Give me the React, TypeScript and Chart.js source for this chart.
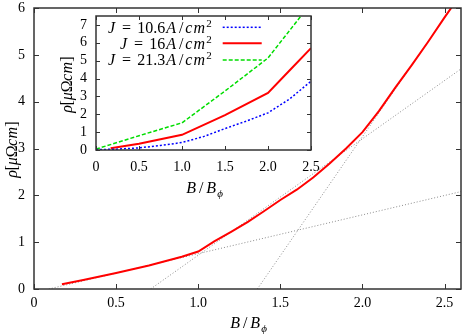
import React, { useEffect, useRef } from "react";
import { Chart, registerables } from "chart.js";
Chart.register(...registerables);

const FONT = '"Liberation Serif", "DejaVu Serif", serif';

// ---- main chart data ----
const mainX = [0.17, 0.3, 0.5, 0.7, 0.9, 1.0, 1.1, 1.2, 1.3, 1.4, 1.5, 1.6, 1.7, 1.8, 1.9, 2.0, 2.1, 2.2, 2.3, 2.4, 2.5, 2.58];
const mainY = [0.1, 0.19, 0.34, 0.5, 0.69, 0.8, 1.02, 1.22, 1.43, 1.66, 1.9, 2.12, 2.38, 2.68, 3.0, 3.35, 3.8, 4.3, 4.78, 5.28, 5.8, 6.2];
const fitLowX = [0.09, 2.6];
const fitLowY = [0, 2.08];
const fitMidX = [0.71, 2.6];
const fitMidY = [0, 4.7];
const fitHighX = [1.36, 2.56];
const fitHighY = [0, 6.1];
const mainXTicks = [0, 0.5, 1, 1.5, 2, 2.5];
const mainYTicks = [0, 1, 2, 3, 4, 5, 6];

// ---- inset data ----
const blueX = [0, 0.25, 0.5, 0.75, 1.0, 1.25, 1.5, 1.75, 2.0, 2.25, 2.5];
const blueY = [0.02, 0.05, 0.12, 0.25, 0.42, 0.75, 1.2, 1.62, 2.08, 2.85, 3.85];
const redX = [0.17, 0.5, 1.0, 1.5, 2.0, 2.25, 2.5];
const redY = [0.1, 0.35, 0.85, 1.95, 3.2, 4.45, 5.7];
const greenX = [0, 0.5, 1.0, 1.5, 2.0, 2.4];
const greenY = [0.05, 0.8, 1.52, 3.3, 5.15, 7.6];
const insetXTicks = [0, 0.5, 1, 1.5, 2, 2.5];
const insetYTicks = [0, 1, 2, 3, 4, 5, 6, 7];
const legendJ = ["10.6", "16", "21.3"];

type Seg = { t: string; it?: boolean; sz?: number; dy?: number; w?: number };

function drawRich(ctx: CanvasRenderingContext2D, segs: Seg[], x: number, y: number, base: number, align: string, rot = 0) {
  ctx.save();
  ctx.translate(x, y);
  ctx.rotate(rot);
  ctx.fillStyle = "#000";
  ctx.textBaseline = "alphabetic";
  const widths = segs.map((s) => {
    ctx.font = `${s.it ? "italic " : ""}${s.sz ?? base}px ${FONT}`;
    return s.w ?? ctx.measureText(s.t).width;
  });
  const tot = widths.reduce((a, b) => a + b, 0);
  let cur = align === "center" ? -tot / 2 : align === "right" ? -tot : 0;
  const bl = base * 0.33;
  segs.forEach((s, i) => {
    ctx.font = `${s.it ? "italic " : ""}${s.sz ?? base}px ${FONT}`;
    ctx.textAlign = "center";
    if (s.t) ctx.fillText(s.t, cur + widths[i] / 2, bl + (s.dy ?? 0));
    cur += widths[i];
  });
  ctx.restore();
}

const xTitle: Seg[] = [
  { t: "B", it: true, w: 12 },
  { t: "/", w: 8 },
  { t: "B", it: true, w: 12 },
  { t: "\u03D5", it: true, sz: 11, dy: 4 },
];
const yTitle: Seg[] = [
  { t: "\u03C1", it: true, w: 8 },
  { t: "[", w: 4.2 },
  { t: "\u03BC", it: true, w: 9 },
  { t: "\u03A9", w: 11 },
  { t: "c", it: true, w: 6.5 },
  { t: "m", it: true, w: 13 },
  { t: "]", w: 4.2 },
];
const legendSegs = (j: string): Seg[] => [
  { t: "J", it: true, w: 9 },
  { t: "", w: 4.4 },
  { t: "=", w: 12.4 },
  { t: "", w: 4.4 },
  { t: j },
  { t: "A", it: true, w: 12 },
  { t: "/", w: 8 },
  { t: "c", it: true, w: 7 },
  { t: "m", it: true, w: 14 },
  { t: "2", sz: 11, dy: -6 },
];

function framePlugin(len: number, extra: (ctx: CanvasRenderingContext2D, chart: any) => void) {
  return {
    id: "frame",
    afterDraw(chart: any) {
      const { ctx, chartArea: a } = chart;
      const xs = chart.scales.x;
      const ys = chart.scales.y;
      ctx.save();
      ctx.strokeStyle = "#333";
      ctx.lineWidth = 1;
      ctx.beginPath();
      xs.ticks.forEach((t: any) => {
        const p = Math.round(xs.getPixelForValue(t.value)) + 0.5;
        ctx.moveTo(p, a.bottom);
        ctx.lineTo(p, a.bottom - len);
        ctx.moveTo(p, a.top);
        ctx.lineTo(p, a.top + len);
      });
      ys.ticks.forEach((t: any) => {
        const p = Math.round(ys.getPixelForValue(t.value)) + 0.5;
        ctx.moveTo(a.left, p);
        ctx.lineTo(a.left + len, p);
        ctx.moveTo(a.right, p);
        ctx.lineTo(a.right - len, p);
      });
      ctx.stroke();
      ctx.lineWidth = 1.5;
      ctx.strokeRect(a.left, a.top, a.right - a.left, a.bottom - a.top);
      ctx.restore();
      extra(ctx, chart);
    },
  };
}

const pts = (xs: number[], ys: number[]) => xs.map((x, i) => ({ x, y: ys[i] }));

function scaleOpts(min: number, max: number, ticks: number[], pad: number, fit: (s: any) => void) {
  return {
    type: "linear" as const,
    min,
    max,
    grid: { display: false, drawTicks: false },
    border: { display: false },
    ticks: { font: { family: FONT, size: 14 }, color: "#000", padding: pad, maxRotation: 0, autoSkip: false },
    afterBuildTicks: (s: any) => {
      s.ticks = ticks.map((v) => ({ value: v }));
    },
    afterFit: (s: any) => {
      s.paddingTop = 0;
      s.paddingBottom = 0;
      s.paddingLeft = 0;
      s.paddingRight = 0;
      fit(s);
    },
  };
}

export default function App() {
  const mainRef = useRef<HTMLCanvasElement>(null);
  const insetRef = useRef<HTMLCanvasElement>(null);

  useEffect(() => {
    const gray = { borderColor: "#8a8a8a", borderWidth: 1, borderDash: [1, 2], pointRadius: 0, fill: false };
    const c1 = new Chart(mainRef.current!, {
      type: "line",
      data: {
        datasets: [
          { data: pts(mainX, mainY), borderColor: "#ff0000", borderWidth: 2, pointRadius: 0, fill: false, clip: 0 } as any,
          { data: pts(fitLowX, fitLowY), ...gray } as any,
          { data: pts(fitMidX, fitMidY), ...gray } as any,
          { data: pts(fitHighX, fitHighY), ...gray } as any,
        ],
      },
      options: {
        animation: false,
        responsive: false,
        devicePixelRatio: 1,
        events: [],
        layout: { padding: { top: 8, right: 2, left: 0, bottom: 0 } },
        plugins: { legend: { display: false }, tooltip: { enabled: false } },
        scales: {
          x: scaleOpts(0, 2.6, mainXTicks, 6, (s: any) => { s.height = 47; }),
          y: scaleOpts(0, 6, mainYTicks, 9, (s: any) => { s.width = 34; }),
        } as any,
      },
      plugins: [
        framePlugin(5, (ctx) => {
          drawRich(ctx, xTitle, 248, 323, 16, "center");
          drawRich(ctx, yTitle, 12, 150, 16, "center", -Math.PI / 2);
        }),
      ],
    });

    const colors = ["#0000ff", "#ff0000", "#00dd00"];
    const dashes = [[2, 2], [], [4, 2]];
    const widths = [1.5, 2, 1.5];
    const c2 = new Chart(insetRef.current!, {
      type: "line",
      data: {
        datasets: [
          { data: pts(blueX, blueY), borderColor: colors[0], borderWidth: widths[0], borderDash: dashes[0], pointRadius: 0, fill: false, clip: 0 } as any,
          { data: pts(redX, redY), borderColor: colors[1], borderWidth: widths[1], borderDash: dashes[1], pointRadius: 0, fill: false, clip: 0 } as any,
          { data: pts(greenX, greenY), borderColor: colors[2], borderWidth: widths[2], borderDash: dashes[2], pointRadius: 0, fill: false, clip: 0 } as any,
        ],
      },
      options: {
        animation: false,
        responsive: false,
        devicePixelRatio: 1,
        events: [],
        layout: { padding: { top: 2, right: 9, left: 0, bottom: 0 } },
        plugins: { legend: { display: false }, tooltip: { enabled: false } },
        scales: {
          x: scaleOpts(0, 2.5, insetXTicks, 9, (s: any) => { s.height = 50; }),
          y: scaleOpts(0, 7.5, insetYTicks, 9, (s: any) => { s.width = 38; }),
        } as any,
      },
      plugins: [
        framePlugin(4, (ctx) => {
          drawRich(ctx, xTitle, 146, 174, 16, "center");
          drawRich(ctx, yTitle, 9, 71, 16, "center", -Math.PI / 2);
          const rows = [13.3, 29.3, 46];
          legendJ.forEach((j, i) => {
            drawRich(ctx, legendSegs(j), 153.7, rows[i], 16, "right");
            ctx.save();
            ctx.strokeStyle = colors[i];
            ctx.lineWidth = widths[i];
            ctx.setLineDash(dashes[i]);
            ctx.beginPath();
            ctx.moveTo(164.7, rows[i]);
            ctx.lineTo(203.7, rows[i]);
            ctx.stroke();
            ctx.restore();
          });
        }),
      ],
    });

    return () => {
      c1.destroy();
      c2.destroy();
    };
  }, []);

  return (
    <div style={{ position: "absolute", left: 0, top: 0, width: 463, height: 336, background: "#fff" }}>
      <canvas ref={mainRef} width={463} height={336} style={{ position: "absolute", left: 0, top: 0, width: 463, height: 336 }} />
      <canvas ref={insetRef} width={262} height={186} style={{ position: "absolute", left: 58, top: 14, width: 262, height: 186 }} />
    </div>
  );
}
